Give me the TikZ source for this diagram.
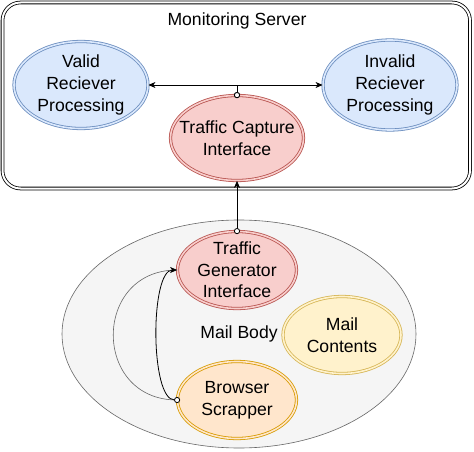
\documentclass[tikz,border=0pt]{standalone}
\usepackage{fontspec}
\setmainfont{Liberation Sans}
\usetikzlibrary{arrows.meta,shapes.geometric}
\definecolor{blueFill}{HTML}{DAE8FC}
\definecolor{blueLine}{HTML}{6C8EBF}
\definecolor{redFill}{HTML}{F8CECC}
\definecolor{redLine}{HTML}{B85450}
\definecolor{yellowFill}{HTML}{FFF2CC}
\definecolor{yellowLine}{HTML}{D6B656}
\definecolor{orangeFill}{HTML}{FFE6CC}
\definecolor{orangeLine}{HTML}{D79B00}
\definecolor{bodyFill}{HTML}{F5F5F5}
\definecolor{bodyLine}{HTML}{666666}

\begin{document}
\begin{tikzpicture}[x=1pt, y=-1pt,
	every node/.style={font=\fontsize{17.6}{21.7}\selectfont},
	oval/.style={ellipse, inner sep=0pt, line width=0.8pt, double distance=1.6pt},
	blueoval/.style={oval, draw=blueLine, fill=blueFill, double=blueFill},
	redoval/.style={oval, draw=redLine, fill=redFill, double=redFill},
	yellowoval/.style={oval, draw=yellowLine, fill=yellowFill, double=yellowFill},
	orangeoval/.style={oval, draw=orangeLine, fill=orangeFill, double=orangeFill},
	txt/.style={align=center},
	link/.style={line width=0.8pt, {Circle[open,length=6pt,fill=white]}-{Stealth[length=7pt,width=6pt,inset=2pt]}, shorten <=-3pt}]
		%%%%% START %%%%%
		\useasboundingbox (0, 0) rectangle (474, 452);
		
		\draw[line width=0.8pt, double, double distance=2pt, rounded corners=18pt] (2.5, 2.5) rectangle (470, 188.5);
		\node (server) at (237, 21) {Monitoring Server};
		
		\node[blueoval, minimum width=134pt, minimum height=87pt, label={[txt]center:Valid\\Reciever\\Processing}] (valid) at (81, 85) {};
		\node[blueoval, minimum width=134pt, minimum height=90pt, label={[txt]center:Invalid\\Reciever\\Processing}] (invalid) at (390, 85) {};
		\node[redoval, minimum width=133pt, minimum height=85pt, label={[txt]center:Traffic Capture\\Interface}] (capture) at (237, 138) {};
		
		\draw[link] (capture.north) |- (valid.east);
		\draw[link] (capture.north) |- (invalid.west);
		
		\node[ellipse, draw=bodyLine, fill=bodyFill, line width=0.6pt, minimum width=354pt, minimum height=228pt] (body) at (239, 334) {Mail Body};
		
		\node[redoval, minimum width=119pt, minimum height=77pt, label={[txt]center:Traffic\\Generator\\Interface}] (generator) at (237, 270) {};
		\node[orangeoval, minimum width=119pt, minimum height=77pt, label={[txt]center:Browser\\Scrapper}] (browser) at (237, 400) {};
		\node[yellowoval, minimum width=118pt, minimum height=77pt, label={[txt]center:Mail\\Contents}] (contents) at (342, 335) {};
		
		\draw[link] (generator.north) -- (capture.south);
		
		\draw[line width=0.6pt, color=bodyLine] (browser.west) .. controls (92, 400) and (92, 270) .. (generator.west);
		\draw[link] (browser.west) .. controls (150, 400) and (150, 270) .. (generator.west);
		
		%%%%% END %%%%%
\end{tikzpicture}
\end{document}
